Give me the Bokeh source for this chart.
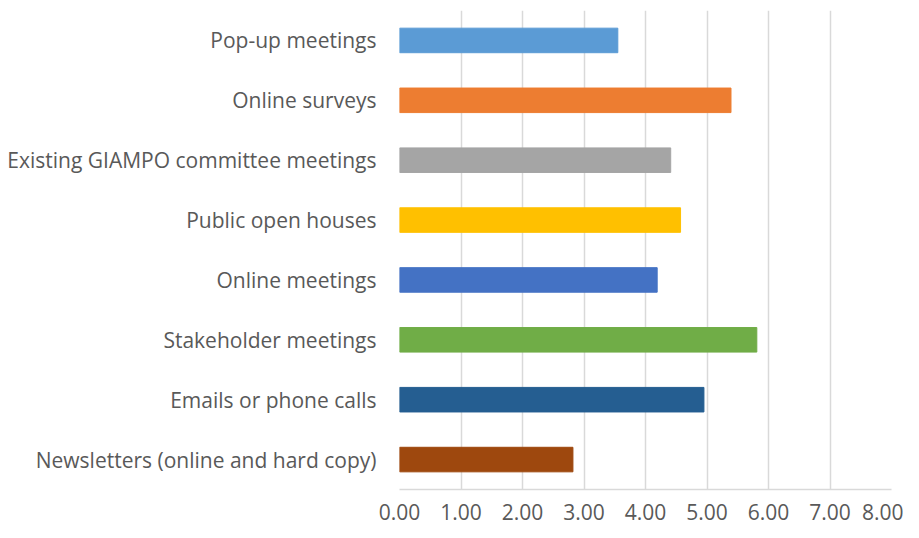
from bokeh.plotting import figure
from bokeh.models import FactorRange, Range1d, FixedTicker, NumeralTickFormatter, ColumnDataSource
from bokeh.embed import file_html
from bokeh.resources import INLINE

categories = [
    "Pop-up meetings",
    "Online surveys",
    "Existing GIAMPO committee meetings",
    "Public open houses",
    "Online meetings",
    "Stakeholder meetings",
    "Emails or phone calls",
    "Newsletters (online and hard copy)",
]
values = [3.55, 5.39, 4.41, 4.57, 4.19, 5.81, 4.95, 2.82]
colors = ["#5B9BD5", "#ED7D31", "#A5A5A5", "#FFC000", "#4472C4", "#70AD47", "#255E91", "#9E480E"]
x_ticks = [0, 1, 2, 3, 4, 5, 6, 7, 8]

source = ColumnDataSource(data=dict(cat=categories, val=values, color=colors))

p = figure(
    width=903, height=522,
    y_range=FactorRange(factors=list(reversed(categories))),
    x_range=Range1d(0, 8),
    output_backend="svg", toolbar_location=None,
    min_border_left=399, min_border_right=12, min_border_top=10, min_border_bottom=30,
)
p.hbar(y="cat", right="val", left=0, height=0.41, color="color", source=source)

p.outline_line_color = None
p.ygrid.grid_line_color = None
p.xgrid.grid_line_color = "#d9d9d9"
p.xgrid.grid_line_width = 1.5
p.xaxis.ticker = FixedTicker(ticks=x_ticks)
p.xaxis.formatter = NumeralTickFormatter(format="0.00")
p.xaxis.axis_line_color = "#d9d9d9"
p.xaxis.axis_line_width = 1.5
p.xaxis.major_tick_line_color = None
p.xaxis.minor_tick_line_color = None
p.xaxis.major_label_standoff = 8
p.yaxis.axis_line_color = None
p.yaxis.major_tick_line_color = None
p.yaxis.minor_tick_line_color = None
p.yaxis.major_label_standoff = 17
for ax in (p.xaxis, p.yaxis):
    ax.major_label_text_font = "Open Sans"
    ax.major_label_text_font_size = "21px"
    ax.major_label_text_color = "#595959"

open("out.html", "w").write(file_html(p, INLINE))
